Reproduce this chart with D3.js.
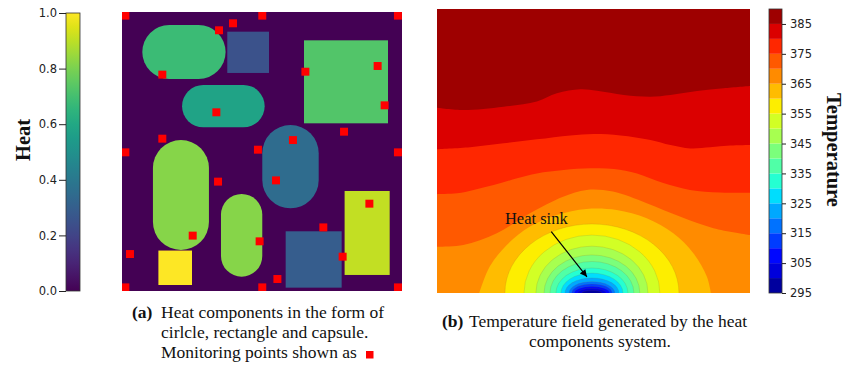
<!DOCTYPE html>
<html>
<head>
<meta charset="utf-8">
<script src="https://d3js.org/d3.v7.min.js"></script>
<style>
body { margin: 0; background: #fff; }
text { font-family: "Liberation Serif", "Times New Roman", serif; fill: #111; }
.tick text { font-family: "DejaVu Sans", sans-serif; font-size: 11.5px; fill: #222; }
.tick line { stroke: #222; }
</style>
</head>
<body>
<svg width="846" height="365"></svg>
<script>
// ---------- panel (a): heat components, layout on a 200 x 200 grid ----------
var shapeKind = ["capsule", "rect", "rect", "capsule", "capsule", "capsule", "capsule", "rect", "rect", "rect"];
var shapeX0   = [14.5, 75.2, 130, 42.9, 100.2, 22.1, 70.7, 26, 116.9, 159];
var shapeX1   = [74.0, 105, 190, 101.9, 140.5, 62.1, 100.2, 50, 156.9, 191.2];
var shapeY0   = [9.3, 14.1, 20.3, 52.3, 81, 91.8, 130.4, 171, 157.2, 128.3];
var shapeY1   = [48.0, 43.7, 79.8, 82.7, 140.7, 170.6, 189.7, 195.7, 197.6, 188.5];
var shapeHeat = [0.68, 0.25, 0.73, 0.58, 0.35, 0.82, 0.82, 1.0, 0.29, 0.91];

// monitoring points
var monitorX = [2.4, 100.2, 197.1, 79.3, 69.3, 28.8, 131, 182.6, 187.6, 67.4, 158.6, 28.8, 122.1, 97.1,
                2.4, 197.1, 110, 68.6, 176.7, 143.8, 50.5, 98.3, 157.6, 5.7, 111, 2.4, 100.2, 197.1];
var monitorY = [2.6, 2.6, 2.6, 8.1, 13.1, 44.9, 42.8, 38.7, 66.9, 71.9, 85.8, 90.8, 91.8, 98.7,
                100.6, 100.6, 120.7, 121.6, 137.4, 154.4, 160.3, 164.4, 175.4, 173.5, 191.4, 197.4, 197.4, 197.4];

var heatTicks = [0, 0.2, 0.4, 0.6, 0.8, 1.0];

// ---------- panel (b): temperature field, contour lines on a 100 x 100 frame ----------
var tempLevels = [295, 300, 305, 310, 315, 320, 325, 330, 335, 340, 345, 350, 355, 360, 365, 370, 375, 380, 385, 390];
var tempTicks  = [295, 305, 315, 325, 335, 345, 355, 365, 375, 385];

// wavy contour lines (level, then points across the field)
var waveLevels = [385, 380, 375, 370, 365];
var waveU = [
  [0, 8.5, 21.3, 31.9, 38.3, 45.8, 51.1, 59.7, 68.2, 74.6, 83.1, 91.6, 100],
  [0, 10.6, 21.3, 31.9, 42.6, 50.1, 58.6, 68.2, 74.6, 80.9, 87.3, 93.7, 100],
  [0, 6.4, 11.7, 18.1, 25.6, 31.9, 40.5, 49.0, 56.5, 63.9, 72.3, 80.8, 90.4, 100],
  [0, 8.4, 19.1, 29.7, 40.3, 47.8, 56.2, 67.0, 77.6, 88.3, 100],
  [13.5, 16.9, 22.3, 29.7, 38.3, 47.8, 57.4, 67.0, 75.5, 81.9, 86.2, 87.5]
];
var waveV = [
  [34.8, 35.6, 34.4, 32.6, 29.7, 28.3, 28.8, 30.3, 30.9, 30.3, 28.9, 27.9, 27.1],
  [49.4, 48.7, 47.3, 45.9, 44.5, 44.0, 44.5, 46.1, 47.9, 49.1, 48.7, 48.1, 47.9],
  [65.2, 64.9, 63.7, 62.0, 59.6, 57.9, 56.7, 56.1, 56.3, 57.9, 61.3, 63.7, 64.6, 64.7],
  [83.7, 83.1, 79.0, 71.9, 66.1, 63.7, 64.3, 68.4, 73.1, 77.2, 79.6],
  [100, 90.6, 83.1, 76.6, 72.5, 70.4, 70.8, 73.7, 79.0, 86.0, 94.2, 100]
];

// half-elliptic contours around the heat sink
var sinkCenter    = 49.5;
var sinkLevels    = [360, 355, 350, 345, 340, 335, 330, 325, 320, 315, 310, 305, 300];
var sinkHalfWidth = [27.8, 21.7, 17.9, 15.3, 13.4, 11.5, 9.9, 8.6, 7.3, 6.4, 5.6, 4.5, 3.2];
var sinkHeight    = [24.3, 20.4, 16.5, 13.4, 11.1, 8.8, 7.0, 5.3, 4.0, 3.2, 2.3, 1.6, 0.9];

var svg = d3.select("svg");

// jet colormap
var jr = d3.scaleLinear().domain([0, 0.35, 0.66, 0.89, 1]).range([0, 0, 1, 1, 0.5]).clamp(true);
var jg = d3.scaleLinear().domain([0, 0.125, 0.375, 0.64, 0.91, 1]).range([0, 0, 1, 1, 0, 0]).clamp(true);
var jb = d3.scaleLinear().domain([0, 0.11, 0.34, 0.65, 1]).range([0.5, 1, 1, 0, 0]).clamp(true);
function jet(t) {
  return d3.rgb(jr(t) * 255, jg(t) * 255, jb(t) * 255).formatHex();
}
var tMin = tempLevels[0], tMax = tempLevels[tempLevels.length - 1];
// colour of band just below level L
function bandColor(L) { return jet((L - 2.5 - tMin) / (tMax - tMin)); }

// ======== heat colorbar (left) ========
var heatY = d3.scaleLinear().domain([0, 1]).range([291, 13]);
var grad = svg.append("defs").append("linearGradient")
  .attr("id", "viri").attr("x1", 0).attr("y1", 1).attr("x2", 0).attr("y2", 0);
grad.selectAll("stop").data(d3.range(0, 1.01, 0.05)).enter().append("stop")
  .attr("offset", function(d) { return d; })
  .attr("stop-color", function(d) { return d3.interpolateViridis(d); });
svg.append("rect").attr("x", 66).attr("y", heatY(1)).attr("width", 14).attr("height", heatY(0) - heatY(1))
  .style("fill", "url(#viri)").style("stroke", "#333").style("stroke-width", 0.8);
var ha = svg.append("g").attr("transform", "translate(66,0)")
  .call(d3.axisLeft(heatY).tickValues(heatTicks).tickFormat(d3.format(".1f")).tickSize(7).tickPadding(2).tickSizeOuter(0));
ha.select(".domain").remove();
svg.append("text").attr("transform", "translate(29.5,140) rotate(-90)")
  .attr("text-anchor", "middle").style("font-weight", "bold").style("font-size", "20.5px").text("Heat");

// ======== panel (a) ========
var ax = d3.scaleLinear().domain([0, 200]).range([122, 402]);
var ay = d3.scaleLinear().domain([0, 200]).range([12, 291]);
svg.append("clipPath").attr("id", "clipA").append("rect")
  .attr("x", ax(0)).attr("y", ay(0)).attr("width", ax(200) - ax(0)).attr("height", ay(200) - ay(0));
var pa = svg.append("g").attr("clip-path", "url(#clipA)");
pa.append("rect").attr("x", ax(0)).attr("y", ay(0)).attr("width", ax(200) - ax(0)).attr("height", ay(200) - ay(0))
  .style("fill", d3.interpolateViridis(0));
pa.selectAll(".comp").data(shapeHeat).enter().append("rect")
  .attr("class", "comp")
  .attr("x", function(d, i) { return ax(shapeX0[i]); })
  .attr("y", function(d, i) { return ay(shapeY0[i]); })
  .attr("width", function(d, i) { return ax(shapeX1[i]) - ax(shapeX0[i]); })
  .attr("height", function(d, i) { return ay(shapeY1[i]) - ay(shapeY0[i]); })
  .attr("rx", function(d, i) {
    if (shapeKind[i] != "capsule") return 0;
    var w = ax(shapeX1[i]) - ax(shapeX0[i]), h = ay(shapeY1[i]) - ay(shapeY0[i]);
    return Math.min(w, h) / 2;
  })
  .style("fill", function(d) { return d3.interpolateViridis(d); });
var ms = 5.7;
pa.selectAll(".mon").data(monitorX).enter().append("rect")
  .attr("class", "mon")
  .attr("x", function(d) { return ax(d - ms / 2); })
  .attr("y", function(d, i) { return ay(monitorY[i] - ms / 2); })
  .attr("width", ax(ms) - ax(0)).attr("height", ay(ms) - ay(0))
  .style("fill", "#ff0000");

// ======== panel (b) ========
var bx = d3.scaleLinear().domain([0, 100]).range([437, 750]);
var by = d3.scaleLinear().domain([0, 100]).range([9, 293]);
svg.append("clipPath").attr("id", "clipB").append("rect")
  .attr("x", bx(0)).attr("y", by(0)).attr("width", bx(100) - bx(0)).attr("height", by(100) - by(0));
var pb = svg.append("g").attr("clip-path", "url(#clipB)");
pb.append("rect").attr("x", bx(0)).attr("y", by(0)).attr("width", bx(100) - bx(0)).attr("height", by(100) - by(0))
  .style("fill", bandColor(390));

var area = d3.area()
  .x(function(d) { return bx(d[0]); })
  .y0(by(100))
  .y1(function(d) { return by(d[1]); })
  .curve(d3.curveCatmullRom);
waveLevels.forEach(function(L, k) {
  var pts = waveU[k].map(function(u, j) { return [u, waveV[k][j]]; });
  pb.append("path").attr("d", area(pts)).style("fill", bandColor(L));
});
sinkLevels.forEach(function(L, k) {
  pb.append("ellipse")
    .attr("cx", bx(sinkCenter)).attr("cy", by(100))
    .attr("rx", bx(sinkHalfWidth[k]) - bx(0))
    .attr("ry", by(sinkHeight[k]) - by(0))
    .style("fill", bandColor(L))
    .style("stroke", "rgba(140,90,30,0.25)").style("stroke-width", 0.6);
});

// annotation
var defs = svg.select("defs");
defs.append("marker").attr("id", "arr").attr("viewBox", "0 0 10 10")
  .attr("refX", 10).attr("refY", 5).attr("markerWidth", 8).attr("markerHeight", 7)
  .attr("markerUnits", "userSpaceOnUse").attr("orient", "auto")
  .append("path").attr("d", "M0,0 L10,5 L0,10 z").style("fill", "#000");
svg.append("line")
  .attr("x1", bx(36.5)).attr("y1", by(78.4)).attr("x2", bx(47.9)).attr("y2", by(94.3))
  .style("stroke", "#000").style("stroke-width", 1.2).attr("marker-end", "url(#arr)");
svg.append("text").attr("x", bx(21.7)).attr("y", by(75.7))
  .style("font-size", "16.5px").text("Heat sink");

// ======== temperature colorbar (right) ========
var tempY = d3.scaleLinear().domain([tMin, tMax]).range([293, 9]);
svg.selectAll(".band").data(tempLevels.slice(1)).enter().append("rect")
  .attr("class", "band")
  .attr("x", 769).attr("width", 13)
  .attr("y", function(d) { return tempY(d); })
  .attr("height", function(d) { return tempY(d - 5) - tempY(d); })
  .style("fill", function(d) { return bandColor(d); });
svg.append("rect").attr("x", 769).attr("y", tempY(tMax)).attr("width", 13).attr("height", tempY(tMin) - tempY(tMax))
  .style("fill", "none").style("stroke", "#333").style("stroke-width", 0.8);
var ta = svg.append("g").attr("transform", "translate(782,0)")
  .call(d3.axisRight(tempY).tickValues(tempTicks).tickSize(4).tickPadding(4).tickSizeOuter(0));
ta.select(".domain").remove();
svg.append("text").attr("transform", "translate(827,150) rotate(90)")
  .attr("text-anchor", "middle").style("font-weight", "bold").style("font-size", "20.5px").text("Temperature");

// ======== captions ========
var capA = svg.append("text").style("font-size", "17.5px");
capA.append("tspan").attr("x", 132).attr("y", 317.5).style("font-weight", "bold").text("(a)");
capA.append("tspan").attr("x", 161).attr("y", 317.5).text("Heat components in the form of");
capA.append("tspan").attr("x", 161).attr("y", 337.5).text("cirlcle, rectangle and capsule.");
capA.append("tspan").attr("x", 161).attr("y", 358).text("Monitoring points shown as");
svg.append("rect").attr("x", 366).attr("y", 351).attr("width", 7.5).attr("height", 7.5).style("fill", "#ff0000");

var capB = svg.append("text").style("font-size", "17.5px");
capB.append("tspan").attr("x", 442).attr("y", 326.5).style("font-weight", "bold").text("(b)");
capB.append("tspan").attr("x", 469).attr("y", 326.5).text("Temperature field generated by the heat");
svg.append("text").attr("x", 600).attr("y", 346.5).attr("text-anchor", "middle")
  .style("font-size", "17.5px").text("components system.");
</script>
</body>
</html>
